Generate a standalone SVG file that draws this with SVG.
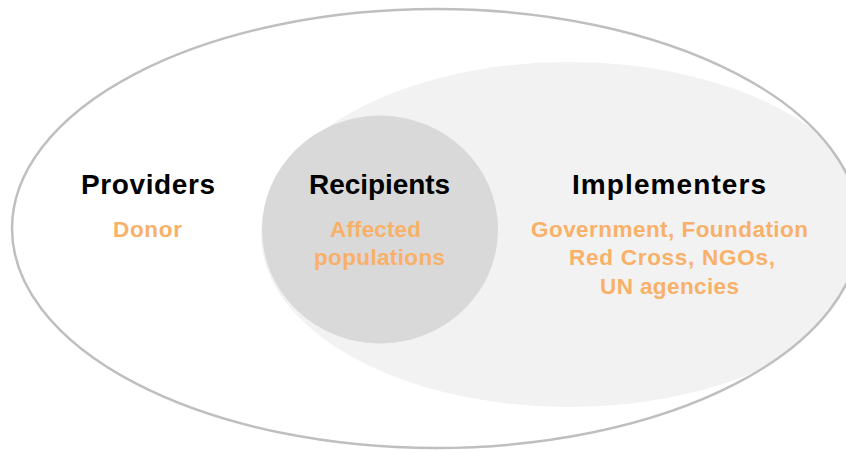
<svg xmlns="http://www.w3.org/2000/svg" width="846" height="450" viewBox="0 0 846 450">
  <style>
    .title { font-family: "Liberation Sans", Arial, sans-serif; font-weight: bold; font-size: 28px; fill: #000000; text-anchor: middle; }
    .sub { font-family: "Liberation Sans", Arial, sans-serif; font-weight: bold; font-size: 22.5px; fill: #f9b068; text-anchor: middle; }
  </style>
  <defs>
    <clipPath id="outerClip">
      <ellipse cx="436" cy="228.5" rx="424" ry="219.5"/>
    </clipPath>
  </defs>
  <rect width="846" height="450" fill="#ffffff"/>
  <g id="providers">
    <ellipse cx="436" cy="228.5" rx="424" ry="219.5" fill="#ffffff"/>
  </g>
  <g id="implementers">
    <ellipse cx="569" cy="234.5" rx="308" ry="172.5" fill="#f2f2f2" clip-path="url(#outerClip)"/>
  </g>
  <g id="outline">
    <ellipse cx="436" cy="228.5" rx="424" ry="219.5" fill="none" stroke="#bfbfbf" stroke-width="2.5"/>
  </g>
  <g id="recipients">
    <ellipse cx="380" cy="229.5" rx="118" ry="114" fill="#d9d9d9"/>
  </g>
  <g id="connectors"></g>
  <g id="labels">
    <text class="title" x="148" y="194" textLength="134">Providers</text>
    <text class="sub" x="147.5" y="237" textLength="69">Donor</text>
    <text class="title" x="379.5" y="194" textLength="141">Recipients</text>
    <text class="sub" x="375.5" y="237" textLength="91">Affected</text>
    <text class="sub" x="379.5" y="265" textLength="131">populations</text>
    <text class="title" x="669" y="194" textLength="194">Implementers</text>
    <text class="sub" x="669.5" y="237" textLength="277">Government, Foundation</text>
    <text class="sub" x="672" y="265" textLength="206">Red Cross, NGOs,</text>
    <text class="sub" x="669.5" y="294" textLength="139">UN agencies</text>
  </g>
</svg>
